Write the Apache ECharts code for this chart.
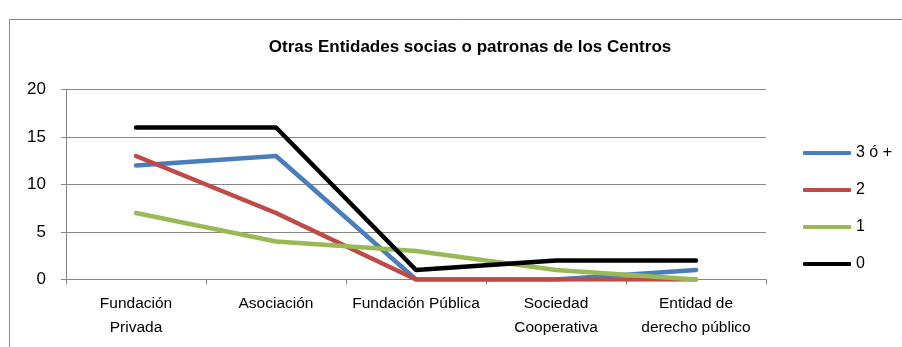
<!DOCTYPE html>
<html>
<head>
<meta charset="utf-8">
<script src="https://cdn.jsdelivr.net/npm/echarts@6/dist/echarts.min.js"></script>
<style>html,body{margin:0;padding:0;background:#fff}#c{width:902px;height:347px}</style>
</head>
<body>
<div id="c"></div>
<script>
const categories = ["Fundación\nPrivada", "Asociación", "Fundación Pública", "Sociedad\nCooperativa", "Entidad de\nderecho público"];
const seriesNames = ["3 ó +", "2", "1", "0"];
const s3omas = [12, 13, 0, 0, 1];
const s2 = [13, 7, 0, 0, 0];
const s1 = [7, 4, 3, 1, 0];
const s0 = [16, 16, 1, 2, 2];
const yTicks = [0, 5, 10, 15, 20];

const colors = ["#4a7ebb", "#be4b48", "#98b954", "#000000"];
const dataSets = [s3omas, s2, s1, s0];
const FONT = "Liberation Sans";

const chart = echarts.init(document.getElementById('c'), null, {renderer: 'canvas'});
chart.setOption({
  animation: false,
  backgroundColor: '#fff',
  textStyle: {fontFamily: FONT},
  graphic: [{
    type: 'rect', left: 7, top: 17, shape: {width: 1000, height: 400},
    style: {fill: 'none', stroke: '#868686', lineWidth: 1}, silent: true, z: -1
  }],
  title: {
    text: 'Otras Entidades socias o patronas de los Centros',
    left: 465, top: 34, textAlign: 'center',
    textStyle: {fontFamily: FONT, fontSize: 17, fontWeight: 'bold', color: '#000'}
  },
  legend: {
    orient: 'vertical', left: 798, top: 140,
    itemWidth: 48, itemHeight: 4, itemGap: 21,
    icon: 'roundRect',
    data: seriesNames,
    textStyle: {fontFamily: FONT, fontSize: 16, color: '#000'}
  },
  grid: {left: 66, right: 136, top: 89.5, bottom: 67.5, containLabel: false},
  xAxis: {
    type: 'category', data: categories, boundaryGap: true,
    axisLine: {lineStyle: {color: '#868686', width: 1}},
    axisTick: {show: true, length: 5, lineStyle: {color: '#868686'}},
    axisLabel: {fontFamily: FONT, fontSize: 15.5, color: '#000', margin: 12, lineHeight: 24, interval: 0}
  },
  yAxis: {
    type: 'value', min: yTicks[0], max: yTicks[yTicks.length - 1], interval: 5,
    axisLine: {show: true, lineStyle: {color: '#868686'}},
    axisTick: {show: true, length: 5, lineStyle: {color: '#868686'}},
    splitLine: {lineStyle: {color: '#868686', width: 1}},
    axisLabel: {fontFamily: FONT, fontSize: 17, color: '#000', margin: 20}
  },
  series: seriesNames.map((n, i) => ({
    name: n, type: 'line', data: dataSets[i],
    symbol: 'none', color: colors[i],
    lineStyle: {width: 4.5, color: colors[i], cap: 'round', join: 'round'}
  }))
});
</script>
</body>
</html>
